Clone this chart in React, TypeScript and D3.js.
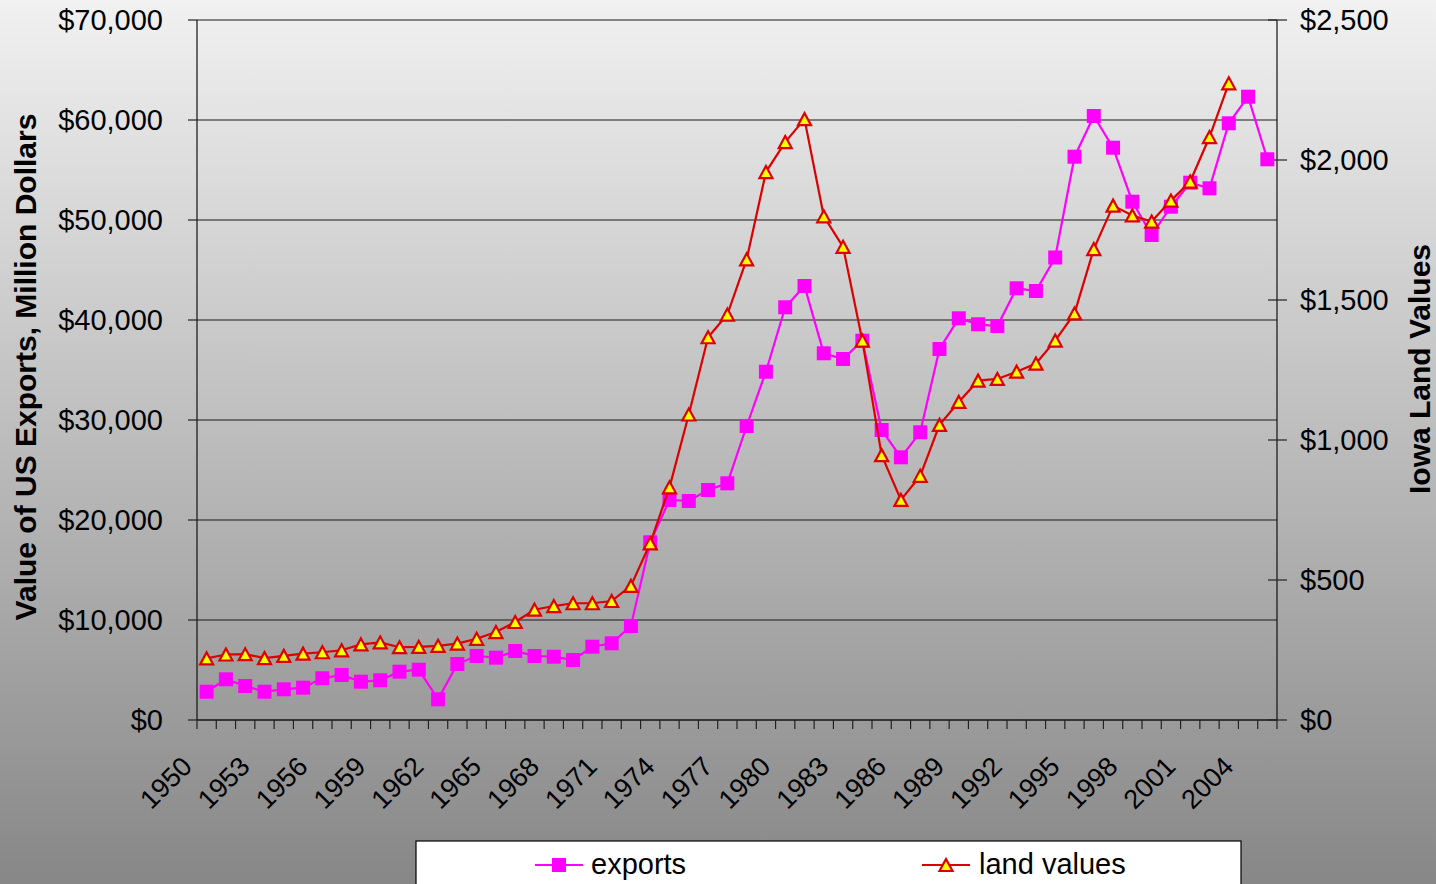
import React from "react";
import * as d3 from "d3";

const years: number[] = Array.from({ length: 56 }, (_, i) => 1950 + i);

const exportsValues: (number | null)[] = [
  2830, 4070, 3400, 2830, 3070, 3230, 4170, 4500, 3830, 3970,
  4830, 5030, 2070, 5600, 6400, 6230, 6900, 6400, 6330, 6000,
  7330, 7670, 9400, 17770, 22000, 21900, 23000, 23670, 29400, 34830,
  41270, 43400, 36670, 36100, 37930, 29000, 26270, 28770, 37100, 40170,
  39570, 39400, 43170, 42900, 46250, 56330, 60400, 57230, 51830, 48500,
  51330, 53730, 53170, 59670, 62330, 56070,
];

const landValues: (number | null)[] = [
  220, 234, 235, 221, 229, 237, 242, 249, 270, 277,
  260, 261, 265, 273, 290, 314, 350, 394, 407, 417,
  417, 425, 479, 631, 831, 1091, 1367, 1448, 1645, 1957,
  2064, 2146, 1799, 1690, 1355, 946, 786, 872, 1054, 1136,
  1212, 1218, 1244, 1273, 1355, 1452, 1682, 1837, 1802, 1780,
  1855, 1923, 2082, 2274, null, null,
];

const leftTicks: number[] = [0, 10000, 20000, 30000, 40000, 50000, 60000, 70000];
const rightTicks: number[] = [0, 500, 1000, 1500, 2000, 2500];

const seriesNames: string[] = ["exports", "land values"];
const leftTitle = "Value of US Exports, Million Dollars";
const rightTitle = "Iowa Land Values";

const W = 1436;
const H = 884;
const FONT = "'Liberation Sans', Arial, sans-serif";

export default function App() {
  const plotL = 197, plotR = 1277, plotT = 20, plotB = 720;
  const x = d3.scaleBand<number>().domain(years).range([plotL, plotR]).padding(0);
  const bw = x.bandwidth();
  const cx = (yr: number) => (x(yr) as number) + bw / 2;
  const yL = d3.scaleLinear().domain([0, 70000]).range([plotB, plotT]);
  const yR = d3.scaleLinear().domain([0, 2500]).range([plotB, plotT]);
  const fmt = (v: number) => "$" + d3.format(",")(v);

  const lineExp = d3
    .line<number>()
    .defined((_, i) => exportsValues[i] != null)
    .x((_, i) => cx(years[i]))
    .y((_, i) => yL(exportsValues[i] as number));
  const lineLand = d3
    .line<number>()
    .defined((_, i) => landValues[i] != null)
    .x((_, i) => cx(years[i]))
    .y((_, i) => yR(landValues[i] as number));

  const idx = years.map((_, i) => i);
  const sq = 14;
  const tri = (px: number, py: number) => {
    const w = 13, h = 12;
    return `M${px},${py - h / 2} L${px + w / 2},${py + h / 2} L${px - w / 2},${py + h / 2} Z`;
  };
  const red = "#dd0000";
  const mag = "#ff00ff";

  const boundaries = years.map((yr) => x(yr) as number).concat([plotR]);

  return (
    <svg
      width={W}
      height={H}
      style={{ position: "absolute", left: 0, top: 0, display: "block" }}
      fontFamily={FONT}
    >
      <defs>
        <linearGradient id="bg" x1="0" y1="0" x2="0" y2="1">
          <stop offset="0" stopColor="#f1f1f1" />
          <stop offset="1" stopColor="#878787" />
        </linearGradient>
      </defs>
      <rect x={0} y={0} width={W} height={H} fill="url(#bg)" />

      {/* gridlines */}
      {leftTicks.map((t) => (
        <line key={"g" + t} x1={plotL} x2={plotR} y1={yL(t)} y2={yL(t)} stroke="#1a1a1a" strokeWidth={1.2} />
      ))}
      {/* axes */}
      <line x1={plotL} x2={plotL} y1={plotT} y2={plotB} stroke="#111" strokeWidth={1.2} />
      <line x1={plotR} x2={plotR} y1={plotT} y2={plotB} stroke="#111" strokeWidth={1.2} />
      <line x1={plotL} x2={plotR} y1={plotB} y2={plotB} stroke="#111" strokeWidth={1.2} />
      {leftTicks.map((t) => (
        <line key={"lt" + t} x1={plotL - 9} x2={plotL} y1={yL(t)} y2={yL(t)} stroke="#222" strokeWidth={1.2} />
      ))}
      {rightTicks.map((t) => (
        <line key={"rt" + t} x1={plotR - 9} x2={plotR + 10} y1={yR(t)} y2={yR(t)} stroke="#222" strokeWidth={1.2} />
      ))}
      {boundaries.map((bx, i) => (
        <line key={"xt" + i} x1={bx} x2={bx} y1={plotB} y2={plotB + 9} stroke="#222" strokeWidth={1.2} />
      ))}

      {/* tick labels */}
      {leftTicks.map((t) => (
        <text key={"ll" + t} x={163} y={yL(t)} dy="0.35em" textAnchor="end" fontSize={29} fill="#000">
          {fmt(t)}
        </text>
      ))}
      {rightTicks.map((t) => (
        <text key={"rl" + t} x={1300} y={yR(t)} dy="0.35em" textAnchor="start" fontSize={29} fill="#000">
          {fmt(t)}
        </text>
      ))}
      {years.filter((_, i) => i % 3 === 0).map((yr) => (
        <text
          key={"xl" + yr}
          transform={`translate(${cx(yr) - 13},${768}) rotate(-45)`}
          textAnchor="end"
          fontSize={27}
          fill="#000"
        >
          {yr}
        </text>
      ))}

      {/* titles */}
      <text
        transform={`translate(36,${367}) rotate(-90)`}
        textAnchor="middle"
        fontSize={30}
        fontWeight="bold"
        fill="#000"
      >
        {leftTitle}
      </text>
      <text
        transform={`translate(1430,${369}) rotate(-90)`}
        textAnchor="middle"
        fontSize={30}
        fontWeight="bold"
        fill="#000"
      >
        {rightTitle}
      </text>

      {/* series */}
      <path d={lineExp(idx) || ""} fill="none" stroke={mag} strokeWidth={2.2} />
      {idx.filter((i) => exportsValues[i] != null).map((i) => (
        <rect
          key={"sq" + i}
          x={cx(years[i]) - sq / 2}
          y={yL(exportsValues[i] as number) - sq / 2}
          width={sq}
          height={sq}
          fill={mag}
        />
      ))}
      <path d={lineLand(idx) || ""} fill="none" stroke={red} strokeWidth={2.2} />
      {idx.filter((i) => landValues[i] != null).map((i) => (
        <path
          key={"tr" + i}
          d={tri(cx(years[i]), yR(landValues[i] as number))}
          fill="#ffff00"
          stroke={red}
          strokeWidth={2.2}
          strokeLinejoin="miter"
        />
      ))}

      {/* legend */}
      <rect x={416} y={841} width={825} height={60} fill="#fff" stroke="#000" strokeWidth={1.2} />
      <line x1={535} x2={583} y1={865} y2={865} stroke={mag} strokeWidth={2.2} />
      <rect x={559 - sq / 2} y={865 - sq / 2} width={sq} height={sq} fill={mag} />
      <text x={591} y={874} fontSize={29} fill="#000">{seriesNames[0]}</text>
      <line x1={922} x2={970} y1={865} y2={865} stroke={red} strokeWidth={2.2} />
      <path d={tri(946, 865)} fill="#ffff00" stroke={red} strokeWidth={2.2} />
      <text x={979} y={874} fontSize={29} fill="#000">{seriesNames[1]}</text>
    </svg>
  );
}
